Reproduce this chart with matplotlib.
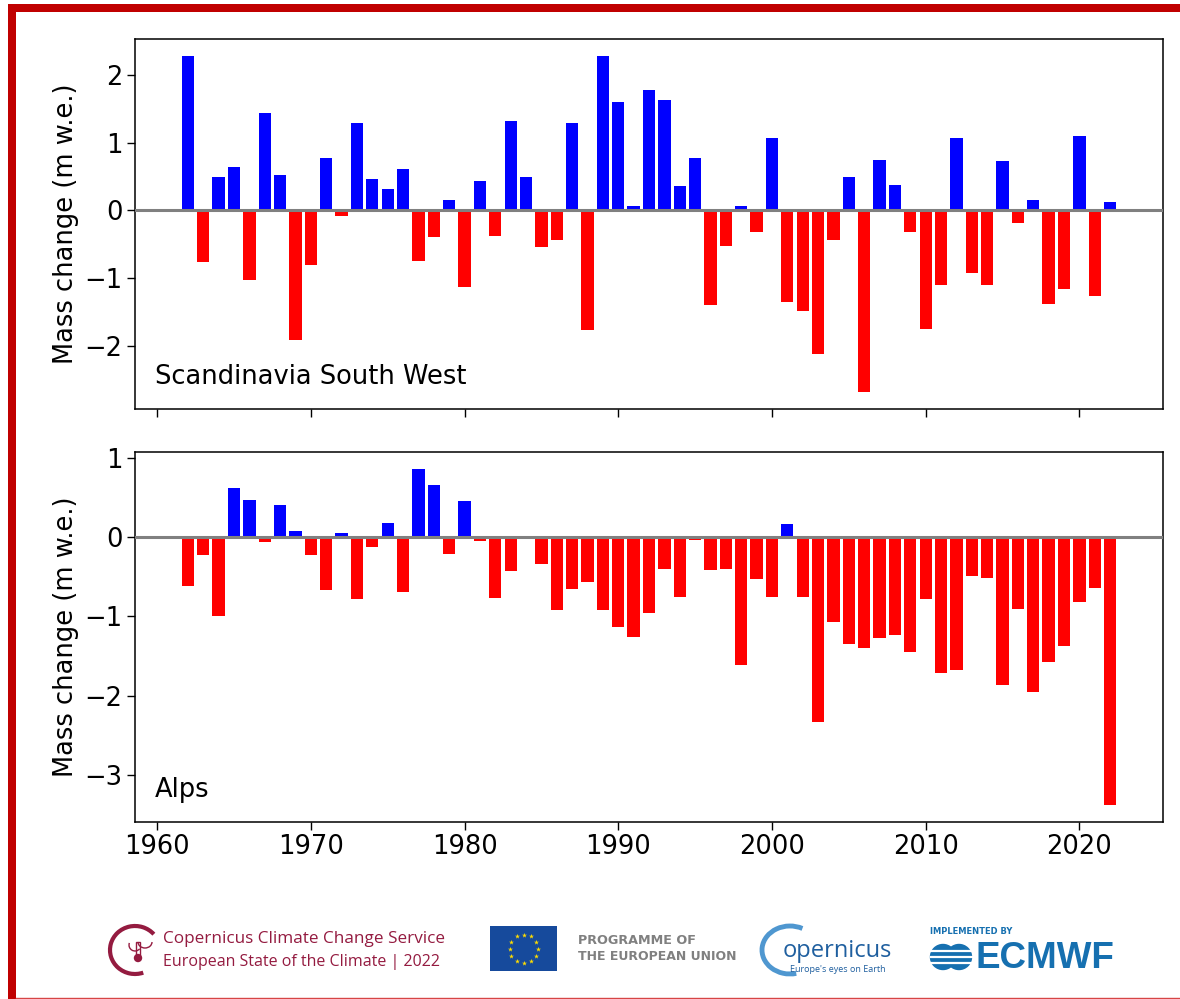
import numpy as np
import matplotlib
matplotlib.use("Agg")
import matplotlib.pyplot as plt
from matplotlib.patches import Rectangle, Circle, Arc

plt.rcParams["font.family"] = ["DejaVu Sans"]

# 数据（年度物质平衡，m w.e.）
years = list(range(1962, 2023))

scand_sw = [2.29, -0.76, 0.50, 0.65, -1.03, 1.44, 0.53, -1.92, -0.80, 0.78,
            -0.08, 1.30, 0.47, 0.32, 0.62, -0.75, -0.39, 0.16, -1.14, 0.43,
            -0.38, 1.33, 0.49, -0.54, -0.44, 1.30, -1.77, 2.29, 1.61, 0.07,
            1.79, 1.64, 0.37, 0.78, -1.40, -0.53, 0.07, -0.32, 1.08, -1.36,
            -1.49, -2.12, -0.43, 0.50, -2.69, 0.75, 0.38, -0.32, -1.76, -1.10,
            1.08, -0.93, -1.11, 0.74, -0.19, 0.15, -1.39, -1.16, 1.10, -1.27,
            0.12]

alps = [-0.62, -0.23, -0.99, 0.62, 0.47, -0.06, 0.41, 0.07, -0.23, -0.67,
        0.05, -0.78, -0.13, 0.18, -0.69, 0.86, 0.65, -0.21, 0.45, -0.05,
        -0.77, -0.43, 0.00, -0.34, -0.92, -0.65, -0.57, -0.92, -1.13, -1.26,
        -0.96, -0.40, -0.75, -0.04, -0.42, -0.40, -1.61, -0.53, -0.75, 0.17,
        -0.75, -2.33, -1.07, -1.35, -1.40, -1.27, -1.23, -1.45, -0.78, -1.72,
        -1.68, -0.49, -0.52, -1.87, -0.91, -1.95, -1.57, -1.37, -0.82, -0.64,
        -3.38]

regions = ["Scandinavia South West", "Alps"]
series = [scand_sw, alps]

W, H = 1180, 999
fig = plt.figure(figsize=(W / 100, H / 100), dpi=100)

# 背景层（像素坐标），用于边框和底部标识
bg = fig.add_axes([0, 0, 1, 1])
bg.set_xlim(0, W)
bg.set_ylim(H, 0)
bg.axis("off")

# 红色边框
red = "#c00000"
bg.add_patch(Rectangle((8, 4), W - 8, 8, color=red, lw=0))
bg.add_patch(Rectangle((8, 4), 8, H - 4, color=red, lw=0))
bg.plot([16, W], [998, 998], color="#d64545", lw=1)

# 两个子图
fs = 18.5
panel_bottoms = [1 - 409 / H, 1 - 822 / H]
axes = []
for name, vals, pb in zip(regions, series, panel_bottoms):
    ax = fig.add_axes([135 / W, pb, 1028 / W, 370 / H])
    vals = np.array(vals)
    colors = np.where(vals >= 0, "#0000ff", "#ff0000")
    ax.bar(years, vals, width=0.8, color=colors)
    ax.axhline(0, color="gray", lw=2.2, zorder=3)
    ax.set_ylabel("Mass change (m w.e.)", fontsize=fs)
    ax.tick_params(labelsize=fs, length=5.5, width=1)
    for sp in ax.spines.values():
        sp.set_linewidth(1.1)
    ax.text(0.019, 0.087, name, transform=ax.transAxes, fontsize=fs,
            ha="left", va="center")
    ax.set_xticks([1960, 1970, 1980, 1990, 2000, 2010, 2020])
    axes.append(ax)

axes[0].set_yticks([-2, -1, 0, 1, 2])
axes[0].tick_params(labelbottom=False)
axes[1].set_yticks([-3, -2, -1, 0, 1])

# ---- 底部标识 ----
maroon = "#941b40"
narrow = ["Liberation Sans Narrow", "Open Sans"]
# C3S 图标
bg.add_patch(Arc((135, 950), 50, 48, theta1=70, theta2=320, color=maroon, lw=3))
bg.add_patch(Arc((145, 942), 14, 12, theta1=0, theta2=180, color=maroon, lw=1))
bg.add_patch(Arc((135, 945), 12, 12, theta1=40, theta2=200, color=maroon, lw=1))
bg.add_patch(Rectangle((136, 942), 4, 14, fill=False, ec=maroon, lw=1))
bg.add_patch(Circle((138, 958), 3.5, color=maroon))
bg.text(163, 939, "Copernicus Climate Change Service", color=maroon,
        fontsize=12.3, family=narrow, ha="left", va="center")
bg.text(163, 962, "European State of the Climate | 2022", color=maroon,
        fontsize=11.5, family=narrow, ha="left", va="center")

# 欧盟旗帜
bg.add_patch(Rectangle((490, 926), 67, 45, color="#164a9c", lw=0))
ang = np.linspace(0, 2 * np.pi, 13)[:-1]
bg.scatter(523.5 + 14 * np.cos(ang), 948.5 + 14 * np.sin(ang), marker="*",
           s=14, color="#ffdd00", lw=0)
bg.text(578, 941, "PROGRAMME OF", color="#808080", fontsize=9.2,
        fontweight="bold", family=["Liberation Sans Narrow", "DejaVu Sans"],
        ha="left", va="center")
bg.text(578, 957, "THE EUROPEAN UNION", color="#808080", fontsize=9.0,
        fontweight="bold", family=["Liberation Sans Narrow", "DejaVu Sans"],
        ha="left", va="center")

# Copernicus 标识
cblue = "#1f5f9f"
bg.add_patch(Arc((790, 950), 56, 48, theta1=75, theta2=300, color="#4f97d0", lw=3.5))
bg.text(783, 951, "opernicus", color=cblue, fontsize=17,
        family=narrow, ha="left", va="center")
bg.text(790, 969, "Europe's eyes on Earth", color=cblue, fontsize=6.5,
        family=narrow, ha="left", va="center")

# ECMWF 标识
eblue = "#1670b0"
bg.text(930, 932, "IMPLEMENTED BY", color=eblue, fontsize=6,
        fontweight="bold", family=["Liberation Sans Narrow", "DejaVu Sans"],
        ha="left", va="center")
bg.add_patch(Circle((943, 957), 12.5, color=eblue))
bg.add_patch(Circle((959, 957), 12.5, color=eblue))
for yy in [951, 957, 963]:
    bg.plot([931, 972], [yy, yy], color="white", lw=1.6)
bg.text(975, 958, "ECMWF", color=eblue, fontsize=26.5, fontweight="bold",
        family=["Liberation Sans", "DejaVu Sans"], ha="left", va="center")

fig.savefig("out.png", dpi=100)
